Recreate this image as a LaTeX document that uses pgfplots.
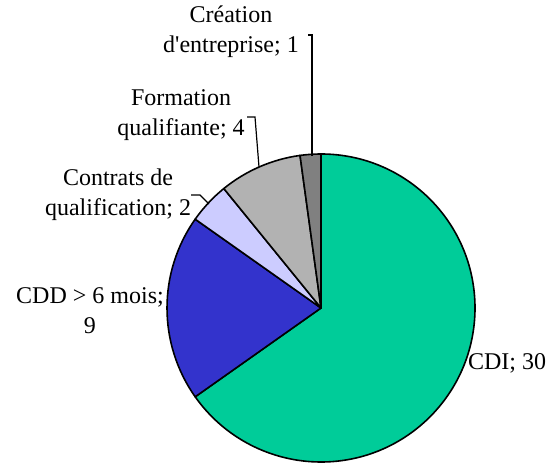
\documentclass[border=0pt]{standalone}
\usepackage{fontspec}
\setmainfont{Liberation Serif}
\newfontfamily\lserif{Liberation Serif}
\usepackage{pgfplots}
\pgfplotsset{compat=1.18}
\definecolor{cdi}{HTML}{00CC99}
\definecolor{cdd}{HTML}{3333CC}
\definecolor{ctr}{HTML}{CCCCFF}
\definecolor{form}{HTML}{B2B2B2}
\definecolor{crea}{HTML}{808080}
\tikzset{lab/.style={font=\lserif\fontsize{24bp}{30bp}\selectfont, align=center, inner sep=0pt}}
\newcommand\sector[3]{% #1 colour, #2 cumulative start, #3 cumulative end (total 46)
  \filldraw[fill=#1, draw=black, line width=1.6bp, line join=round] (axis cs:321,156) --
    (axis cs:{321+154*cos(90-(#2)/46*360)},{156+154*sin(90-(#2)/46*360)})
    arc[start angle={90-(#2)/46*360}, end angle={90-(#3)/46*360}, radius=154] -- cycle;}
\begin{document}
\begin{tikzpicture}
\begin{axis}[
  width=553bp, height=464bp, scale only axis,
  xmin=0, xmax=553, ymin=0, ymax=464,
  enlargelimits=false, hide axis, clip=false,
]
% values: CDI 30, CDD 9, Contrats 2, Formation 4, Creation 1 ; total 46
\sector{cdi}{0}{30}
\sector{cdd}{30}{39}
\sector{ctr}{39}{41}
\sector{form}{41}{45}
\sector{crea}{45}{46}
% leader lines
\addplot[black, line width=1.2bp, mark=none] coordinates {(308,429) (312,429) (312,308)};
\addplot[black, line width=1.2bp, mark=none] coordinates {(247,347) (255,347) (259,297)};
\addplot[black, line width=1.2bp, mark=none] coordinates {(191,269) (200,269) (209,260)};
% labels
\node[lab] at (axis cs:231,432) {Création\\d'entreprise; 1};
\node[lab] at (axis cs:181,349) {Formation\\qualifiante; 4};
\node[lab] at (axis cs:118,269) {Contrats de\\qualification; 2};
\node[lab] at (axis cs:90,153) {CDD > 6 mois;\\9};
\node[lab] at (axis cs:507,101) {CDI; 30};
\end{axis}
\pgfresetboundingbox
\path (current axis.south west) rectangle (current axis.north east);
\end{tikzpicture}
\end{document}
